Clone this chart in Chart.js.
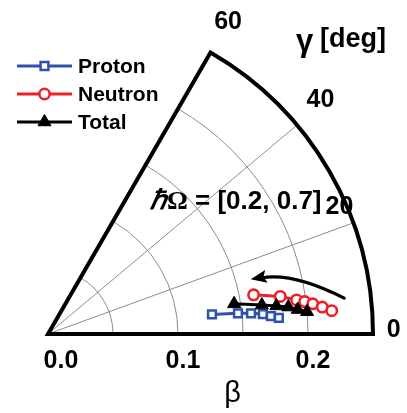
<!DOCTYPE html>
<html>
<head>
<meta charset="utf-8">
<title>beta-gamma plane</title>
<script src="https://cdn.jsdelivr.net/npm/chart.js@4.4.1/dist/chart.umd.min.js"></script>
<style>
  html, body { margin: 0; padding: 0; background: #fff; }
  canvas { display: block; }
</style>
</head>
<body>
<canvas id="bgChart" width="407" height="413"></canvas>
<script>
// deformation paths in the (beta, gamma[deg]) plane
const protonBeta   = [0.127, 0.147, 0.157, 0.166, 0.172, 0.178];
const protonGamma  = [6.8, 6.2, 5.8, 5.3, 4.6, 4.0];
const neutronBeta  = [0.161, 0.181, 0.193, 0.199, 0.205, 0.212, 0.219];
const neutronGamma = [10.8, 9.2, 7.8, 7.2, 6.5, 5.6, 4.7];
const totalBeta    = [0.145, 0.166, 0.177, 0.186, 0.193, 0.200];
const totalGamma   = [9.2, 7.7, 7.0, 6.4, 5.6, 4.9];

// axes of the sector
const betaTicks  = ['0.0', '0.1', '0.2'];
const gammaTicks = ['0', '20', '40', '60'];
const gridBeta   = [0.05, 0.10, 0.15, 0.20];
const gridGamma  = [20, 40];
const betaMax  = 0.25;
const gammaMax = 60;

// direction of increasing rotational frequency (start, bend, tip)
const arrowBeta  = [0.2295, 0.193, 0.1615];
const arrowGamma = [6.9, 14.4, 15.1];

const rad = Math.PI / 180;
function toXY(b, g) {
  return { x: b * Math.cos(g * rad), y: b * Math.sin(g * rad) };
}
function path(betas, gammas) {
  return betas.map((b, i) => toXY(b, gammas[i]));
}

const BLUE = '#2f52ad';
const RED = '#ec2127';
const FONT = '"Liberation Sans", Arial, sans-serif';

const sectorPlugin = {
  id: 'sector',
  beforeDatasetsDraw(chart) {
    const ctx = chart.ctx;
    const xs = chart.scales.x;
    const ox = xs.getPixelForValue(0);
    const oy = chart.scales.y.getPixelForValue(0);
    const unit = xs.getPixelForValue(1) - ox;
    const R = betaMax * unit;
    const top = -gammaMax * rad;

    ctx.save();
    ctx.strokeStyle = '#8c8c8c';
    ctx.lineWidth = 1;
    gridBeta.forEach(b => {
      ctx.beginPath();
      ctx.arc(ox, oy, b * unit, top, 0);
      ctx.stroke();
    });
    gridGamma.forEach(g => {
      ctx.beginPath();
      ctx.moveTo(ox, oy);
      ctx.lineTo(ox + R * Math.cos(g * rad), oy - R * Math.sin(g * rad));
      ctx.stroke();
    });

    // outer frame
    ctx.strokeStyle = '#000';
    ctx.lineWidth = 4;
    ctx.lineJoin = 'miter';
    ctx.beginPath();
    ctx.moveTo(ox, oy);
    ctx.lineTo(ox + R, oy);
    ctx.arc(ox, oy, R, 0, top, true);
    ctx.closePath();
    ctx.stroke();

    // arrow
    const p = arrowBeta.map((b, i) => {
      const q = toXY(b, arrowGamma[i]);
      return { x: xs.getPixelForValue(q.x), y: chart.scales.y.getPixelForValue(q.y) };
    });
    ctx.lineWidth = 3.2;
    ctx.lineCap = 'round';
    ctx.beginPath();
    ctx.moveTo(p[0].x, p[0].y);
    ctx.quadraticCurveTo(p[1].x, p[1].y, p[2].x + 10, p[2].y - 1);
    ctx.stroke();
    const ang = Math.atan2(p[2].y - p[1].y, p[2].x - p[1].x);
    ctx.save();
    ctx.translate(p[2].x, p[2].y);
    ctx.rotate(ang);
    ctx.beginPath();
    ctx.moveTo(0, 0);
    ctx.lineTo(-16, -6.5);
    ctx.lineTo(-13, 0);
    ctx.lineTo(-16, 6.5);
    ctx.closePath();
    ctx.fillStyle = '#000';
    ctx.fill();
    ctx.restore();
    ctx.restore();
  },
  afterDraw(chart) {
    const ctx = chart.ctx;
    const xs = chart.scales.x;
    const ox = xs.getPixelForValue(0);
    const oy = chart.scales.y.getPixelForValue(0);
    const unit = xs.getPixelForValue(1) - ox;
    ctx.save();
    ctx.fillStyle = '#000';
    ctx.textAlign = 'center';
    ctx.textBaseline = 'middle';
    ctx.font = 'bold 25px ' + FONT;

    // beta tick labels
    betaTicks.forEach((t, i) => {
      let x = ox + parseFloat(t) * unit + 5;
      if (i === 0) x += 8;
      ctx.fillText(t, x, oy + 27);
    });
    // gamma tick labels
    const gPos = [[0.266, 0.6], [0.2445, 23.5], [0.276, 40.6], [0.277, 60]];
    gammaTicks.forEach((t, i) => {
      const [r, g] = gPos[i];
      ctx.fillText(t, ox + r * unit * Math.cos(g * rad), oy - r * unit * Math.sin(g * rad));
    });

    ctx.font = '29px ' + FONT;
    ctx.fillText('\u03b2', ox + 0.142 * unit, oy + 60);
    ctx.textAlign = 'left';
    ctx.font = 'bold 31px ' + FONT;
    ctx.fillText('\u03b3', 296, 42);
    ctx.font = 'bold 27px ' + FONT;
    ctx.fillText('[deg]', 320, 40);

    // frequency range: italic hbar, upright Omega
    let tx = 150;
    ctx.font = 'italic bold 27px "Liberation Serif", serif';
    ctx.fillText('\u210f', tx, 202);
    tx += ctx.measureText('\u210f').width;
    ctx.font = 'bold 26px "Liberation Serif", serif';
    ctx.fillText('\u03a9', tx, 202);
    tx += ctx.measureText('\u03a9').width;
    ctx.font = 'bold 26px ' + FONT;
    ctx.fillText(' = [0.2, 0.7]', tx, 202);

    // legend: line + marker + name
    ctx.font = 'bold 21px ' + FONT;
    chart.data.datasets.forEach((ds, i) => {
      const y = 66 + i * 28;
      ctx.strokeStyle = ds.borderColor;
      ctx.lineWidth = 3;
      ctx.beginPath();
      ctx.moveTo(17, y);
      ctx.lineTo(72, y);
      ctx.stroke();
      ctx.fillStyle = ds.pointBackgroundColor;
      ctx.strokeStyle = ds.borderColor;
      ctx.lineWidth = ds.pointBorderWidth;
      Chart.helpers.drawPoint(ctx, {
        pointStyle: ds.pointStyle,
        radius: ds.pointRadius,
        rotation: 0,
        borderWidth: ds.pointBorderWidth
      }, 44.5, y);
      ctx.fillStyle = '#000';
      ctx.fillText(ds.label, 78, y + 1);
    });
    ctx.restore();
  }
};

new Chart(document.getElementById('bgChart'), {
  type: 'scatter',
  data: {
    datasets: [
      {
        label: 'Proton',
        data: path(protonBeta, protonGamma),
        showLine: true,
        borderColor: BLUE,
        borderWidth: 3,
        pointStyle: 'rect',
        pointRadius: 5.5,
        pointBorderWidth: 2.5,
        pointBackgroundColor: '#fff',
        pointBorderColor: BLUE,
        order: 2
      },
      {
        label: 'Neutron',
        data: path(neutronBeta, neutronGamma),
        showLine: true,
        borderColor: RED,
        borderWidth: 3,
        pointStyle: 'circle',
        pointRadius: 5.2,
        pointBorderWidth: 2.6,
        pointBackgroundColor: '#fff',
        pointBorderColor: RED,
        order: 1
      },
      {
        label: 'Total',
        data: path(totalBeta, totalGamma),
        showLine: true,
        borderColor: '#000',
        borderWidth: 3,
        pointStyle: 'triangle',
        pointRadius: 7.5,
        pointBorderWidth: 1,
        pointBackgroundColor: '#000',
        pointBorderColor: '#000',
        order: 0
      }
    ]
  },
  options: {
    responsive: false,
    animation: false,
    layout: { padding: { left: 48, right: 34, top: 52, bottom: 79 } },
    scales: {
      x: { type: 'linear', min: 0, max: betaMax, display: false },
      y: { type: 'linear', min: 0, max: 282 / 1300, display: false }
    },
    plugins: {
      legend: { display: false },
      tooltip: { enabled: false }
    },
    elements: { line: { tension: 0 } },
    clip: false
  },
  plugins: [sectorPlugin]
});
</script>
</body>
</html>
